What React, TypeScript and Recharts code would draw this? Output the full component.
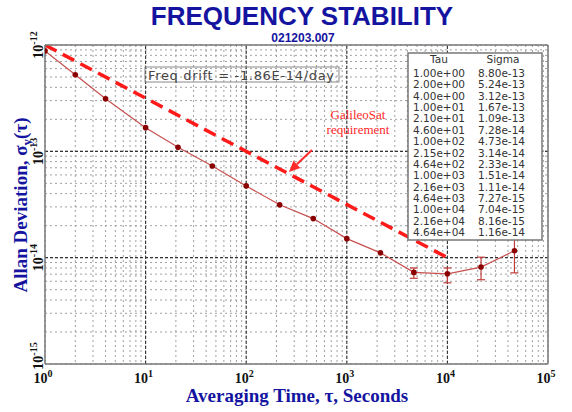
import { ComposedChart, Line, Scatter, XAxis, YAxis, CartesianGrid, ReferenceLine, ErrorBar } from 'recharts'

// Allan deviation results (same numbers as the table in the plot)
const tauValues = [1, 2, 4, 10, 21, 46, 100, 215, 464, 1000, 2160, 4640, 10000, 21600, 46400]
const sigmaValues = [
  8.8e-13, 5.24e-13, 3.12e-13, 1.67e-13, 1.09e-13, 7.28e-14, 4.73e-14, 3.14e-14,
  2.33e-14, 1.51e-14, 1.11e-14, 7.27e-15, 7.04e-15, 8.16e-15, 1.16e-14
]

// error bars, only on the long averaging times
const errTau = [4640, 10000, 21600, 46400]
const errLow = [6.4e-15, 5.8e-15, 6.2e-15, 7.2e-15]
const errHigh = [8.0e-15, 8.0e-15, 1.01e-14, 1.63e-14]

// GalileoSat requirement (dashed)
const reqTau = [1, 10000]
const reqSigma = [1e-12, 1e-14]

// arrow from the label to the requirement line
const arrowTau = [450, 266]
const arrowSigma = [1.03e-13, 6.4e-14]

const xDecades = [1, 10, 100, 1000, 10000, 100000]
const yDecades = [1e-15, 1e-14, 1e-13, 1e-12]

const BLUE = '#1414a0'
const SERIF = '"Liberation Serif", "DejaVu Serif", serif'
const SANS = '"Liberation Sans", Arial, sans-serif'
const TABLE_FONT = '"DejaVu Sans", sans-serif'

const withMinors = (decades: number[]) =>
  decades
    .slice(0, -1)
    .flatMap((d) => [1, 2, 3, 4, 5, 6, 7, 8, 9].map((k) => k * d))
    .concat(decades[decades.length - 1])

const xTicks = withMinors(xDecades)
const yTicks = withMinors(yDecades)

const adevData = tauValues.map((t, i) => ({ tau: t, sigma: sigmaValues[i] }))
const errData = errTau.map((t, i) => {
  const s = sigmaValues[tauValues.indexOf(t)]
  return { tau: t, sigma: s, err: [s - errLow[i], errHigh[i] - s] }
})
const reqData = reqTau.map((t, i) => ({ tau: t, sigma: reqSigma[i] }))

const fmtSci = (v: number) =>
  v.toExponential(2).replace(/e([+-])(\d)$/, (_m, s, d) => `e${s}0${d}`)

const decadeExp = (v: number) => {
  const e = Math.round(Math.log10(v))
  return Math.abs(v - 10 ** e) < 1e-6 * v ? e : null
}

const XTick = (props: any) => {
  const { x, y, payload } = props
  const e = decadeExp(payload.value)
  if (e === null) return null
  return (
    <text x={x - 2} y={y + 19} textAnchor="middle" fontFamily={SERIF} fontWeight="bold" fontSize={14} fill="#111">
      10
      <tspan dy={-6} fontSize={10}>{e}</tspan>
    </text>
  )
}

const YTick = (props: any) => {
  const { x, y, payload } = props
  const e = decadeExp(payload.value)
  if (e === null) return null
  // keep the lowest label clear of the x labels
  const cy = Math.min(y, 356)
  return (
    <text
      transform={`translate(${x - 2},${cy}) rotate(-90)`}
      textAnchor="middle"
      fontFamily={SERIF}
      fontWeight="bold"
      fontSize={14}
      fill="#111"
    >
      10
      <tspan dy={-6} fontSize={10}>{e}</tspan>
    </text>
  )
}

const ArrowShape = (props: any) => {
  const { x1, y1, x2, y2 } = props
  const ang = Math.atan2(y2 - y1, x2 - x1)
  const len = 11
  const half = 5
  const bx = x2 - len * Math.cos(ang)
  const by = y2 - len * Math.sin(ang)
  const px = -Math.sin(ang) * half
  const py = Math.cos(ang) * half
  return (
    <g>
      <line x1={x1} y1={y1} x2={bx} y2={by} stroke="#ff2a2a" strokeWidth={2} />
      <polygon points={`${x2},${y2} ${bx + px},${by + py} ${bx - px},${by - py}`} fill="#ff2a2a" />
    </g>
  )
}

export default function App() {
  const rowY0 = 77
  const rowStep = 11.36
  return (
    <div style={{ position: 'absolute', left: 0, top: 0, width: 572, height: 412, background: '#fff' }}>
      <ComposedChart width={572} height={412} margin={{ top: 45, right: 24, bottom: 18, left: 0 }}>
        <CartesianGrid stroke="#a0a0a0" strokeDasharray="2 3" strokeWidth={1} />
        <XAxis
          dataKey="tau"
          type="number"
          scale="log"
          domain={[1, 100000]}
          ticks={xTicks}
          allowDataOverflow
          height={30}
          tickSize={0}
          tickMargin={0}
          tickLine={false}
          interval={0}
          axisLine={{ stroke: '#777', strokeWidth: 1.5 }}
          tick={<XTick />}
        />
        <XAxis
          xAxisId="top"
          orientation="top"
          type="number"
          scale="log"
          domain={[1, 100000]}
          ticks={xTicks}
          allowDataOverflow
          mirror
          interval={0}
          tick={false}
          tickSize={4}
          tickLine={{ stroke: '#666' }}
          axisLine={{ stroke: '#777', strokeWidth: 1.5 }}
        />
        <YAxis
          dataKey="sigma"
          type="number"
          scale="log"
          domain={[1e-15, 1e-12]}
          ticks={yTicks}
          allowDataOverflow
          width={45}
          tickSize={0}
          tickMargin={0}
          tickLine={false}
          interval={0}
          axisLine={{ stroke: '#777', strokeWidth: 1.5 }}
          tick={<YTick />}
        />
        <YAxis
          yAxisId="right"
          orientation="right"
          type="number"
          scale="log"
          domain={[1e-15, 1e-12]}
          ticks={yTicks}
          allowDataOverflow
          mirror
          interval={0}
          tick={false}
          tickSize={4}
          tickLine={{ stroke: '#666' }}
          axisLine={{ stroke: '#777', strokeWidth: 1.5 }}
        />
        {xDecades.slice(1, -1).map((d) => (
          <ReferenceLine key={`vx-${d}`} x={d} stroke="#333" strokeDasharray="3 2" strokeWidth={1.1} />
        ))}
        {yDecades.slice(1, -1).map((d) => (
          <ReferenceLine key={`hy-${d}`} y={d} stroke="#333" strokeDasharray="3 2" strokeWidth={1.1} />
        ))}
        <Line
          data={reqData}
          dataKey="sigma"
          stroke="#ff1a1a"
          strokeWidth={3.5}
          strokeDasharray="13 7"
          dot={false}
          isAnimationActive={false}
        />
        <Line
          data={adevData}
          dataKey="sigma"
          stroke="#c85050"
          strokeWidth={1.2}
          dot={(p: any) => <circle key={`d-${p.index}`} cx={p.cx} cy={p.cy} r={2.8} fill="#8b0000" />}
          isAnimationActive={false}
        />
        <Scatter data={errData} dataKey="sigma" shape={() => <g />} isAnimationActive={false}>
          <ErrorBar dataKey="err" direction="y" width={4} stroke="#c03c3c" strokeWidth={1.2} />
        </Scatter>
        <ReferenceLine
          segment={[
            { x: arrowTau[0], y: arrowSigma[0] },
            { x: arrowTau[1], y: arrowSigma[1] }
          ]}
          shape={<ArrowShape />}
        />
      </ComposedChart>

      <svg width={572} height={412} style={{ position: 'absolute', left: 0, top: 0, pointerEvents: 'none' }}>
        <text x={302} y={25} textAnchor="middle" fontFamily={SANS} fontWeight="bold" fontSize={26} fill={BLUE}>
          FREQUENCY STABILITY
        </text>
        <text x={303} y={42} textAnchor="middle" fontFamily={SANS} fontWeight="bold" fontSize={12} fill={BLUE}>
          021203.007
        </text>

        <text x={297} y={402} textAnchor="middle" fontFamily={SERIF} fontWeight="bold" fontSize={19} fill={BLUE}>
          Averaging Time, τ, Seconds
        </text>
        <text
          transform="translate(27,205) rotate(-90)"
          textAnchor="middle"
          fontFamily={SERIF}
          fontWeight="bold"
          fontSize={19}
          fill={BLUE}
        >
          Allan Deviation, σ
          <tspan dy={4} fontSize={13}>y</tspan>
          <tspan dy={-4}>(τ)</tspan>
        </text>

        <rect x={145} y={67} width={194} height={15} fill="none" stroke="#888" strokeWidth={1} />
        <text x={148} y={79.5} fontFamily={TABLE_FONT} fontSize={13} fill="#444" textLength={186} lengthAdjust="spacing">
          Freq drift = -1.86E-14/day
        </text>

        <text x={358} y={119} textAnchor="middle" fontFamily={SERIF} fontSize={13} fill="#ff2a2a">
          GalileoSat
        </text>
        <text x={358} y={134} textAnchor="middle" fontFamily={SERIF} fontSize={13} fill="#ff2a2a">
          requirement
        </text>

        <rect x={408} y={53} width={134} height={187} fill="#fff" stroke="#777" strokeWidth={1.5} />
        <text x={439} y={63} textAnchor="middle" fontFamily={TABLE_FONT} fontSize={10.5} fill="#333">
          Tau
        </text>
        <text x={503} y={63} textAnchor="middle" fontFamily={TABLE_FONT} fontSize={10.5} fill="#333">
          Sigma
        </text>
        {tauValues.map((t, i) => (
          <g key={`row-${i}`}>
            <text x={413} y={rowY0 + i * rowStep} fontFamily={TABLE_FONT} fontSize={10.5} fill="#333">
              {fmtSci(t)}
            </text>
            <text x={478} y={rowY0 + i * rowStep} fontFamily={TABLE_FONT} fontSize={10.5} fill="#333">
              {fmtSci(sigmaValues[i])}
            </text>
          </g>
        ))}
      </svg>
    </div>
  )
}
